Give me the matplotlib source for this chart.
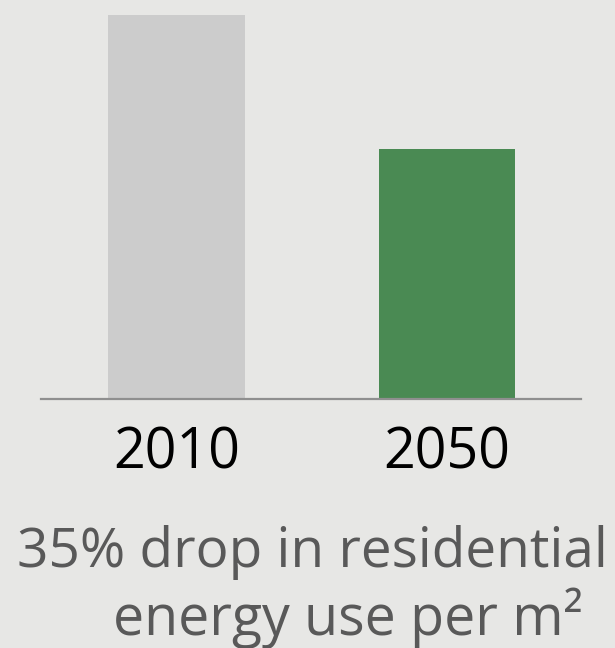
import matplotlib

matplotlib.use("Agg")

import matplotlib.pyplot as plt  # noqa: E402

# data
years = ["2010", "2050"]
energy_index = [100, 65]  # residential energy use per m2, 2010 = 100
bar_colors = ["#cccccc", "#4a8a53"]
caption_line1 = "35% drop in residential"
caption_line2 = "energy use per m\u00b2"

BG = "#e7e7e5"

plt.rcParams["font.family"] = ["Open Sans", "DejaVu Sans"]

fig = plt.figure(figsize=(6.15, 6.48), dpi=100, facecolor=BG)
ax = fig.add_axes([41 / 615, 249 / 648, 540 / 615, 384 / 648], facecolor=BG)

x = range(len(years))
ax.bar(x, energy_index, width=0.506, color=bar_colors, zorder=2)

ax.set_xlim(-0.5, 1.495)
ax.set_ylim(0, 100)
ax.set_yticks([])
ax.set_xticks(list(x))
ax.set_xticklabels(years, fontsize=40, color="black")
ax.tick_params(axis="x", length=0, pad=19)

for side in ("top", "left", "right"):
    ax.spines[side].set_visible(False)
ax.spines["bottom"].set_color("#8f8f8f")
ax.spines["bottom"].set_linewidth(1.6)

fig.text(312 / 615, 1 - 567 / 648, caption_line1, ha="center", va="baseline",
         fontsize=39.5, color="#595959")
fig.text(348 / 615, 1 - 635 / 648, caption_line2, ha="center", va="baseline",
         fontsize=40, color="#595959")

fig.savefig("out.png", dpi=100, facecolor=BG)
